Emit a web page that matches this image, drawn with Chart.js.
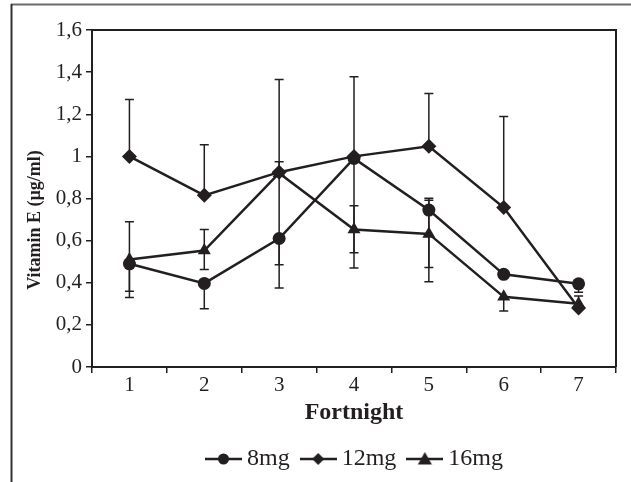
<!DOCTYPE html>
<html>
<head>
<meta charset="utf-8">
<script src="https://cdn.jsdelivr.net/npm/chart.js@4.4.0/dist/chart.umd.min.js"></script>
<style>
  html, body { margin: 0; padding: 0; background: #fff; }
</style>
</head>
<body>
<canvas id="vitChart" width="631" height="482"></canvas>
<script>
// Vitamin E by fortnight, three doses
const fortnights = ['1', '2', '3', '4', '5', '6', '7'];
const vit8  = [0.49, 0.397, 0.61, 0.99, 0.745, 0.44, 0.395];
const vit12 = [1.0, 0.815, 0.925, 1.0, 1.048, 0.757, 0.28];
const vit16 = [0.51, 0.553, 0.92, 0.653, 0.632, 0.333, 0.30];

// error bars (up / down)
const up8    = [0, 0, 0, 0, 0.056, 0, 0];
const down8  = [0.13, 0.12, 0.235, 0.52, 0.34, 0, 0.04];
const up12   = [0.27, 0.24, 0.44, 0.378, 0.25, 0.432, 0];
const down12 = [0, 0, 0.44, 0, 0, 0, 0];
const up16   = [0.18, 0.10, 0.055, 0.112, 0.16, 0, 0.037];
const down16 = [0.18, 0.09, 0, 0.11, 0.16, 0.067, 0];

const yTicks = [0, 0.2, 0.4, 0.6, 0.8, 1, 1.2, 1.4, 1.6];

const ink = '#231f20';
const serif = "'Liberation Serif', 'Times New Roman', serif";

function legendMark(kind) {
  const c = document.createElement('canvas');
  c.width = 37; c.height = 18;
  const g = c.getContext('2d');
  g.strokeStyle = ink; g.fillStyle = ink; g.lineWidth = 2.5;
  g.beginPath(); g.moveTo(0, 9); g.lineTo(37, 9); g.stroke();
  g.beginPath();
  if (kind === 'circle') {
    g.arc(18.5, 9, 5.5, 0, Math.PI * 2);
  } else if (kind === 'diamond') {
    g.moveTo(18.5, 3); g.lineTo(24.5, 9); g.lineTo(18.5, 15); g.lineTo(12.5, 9);
  } else {
    g.moveTo(18.5, 2); g.lineTo(25.5, 14.5); g.lineTo(11.5, 14.5);
  }
  g.closePath(); g.fill();
  return c;
}
const marks = [legendMark('circle'), legendMark('diamond'), legendMark('triangle')];

const errors = [[up8, down8], [up12, down12], [up16, down16]];

const errorBars = {
  id: 'errorBars',
  beforeDatasetsDraw(chart) {
    const ctx = chart.ctx;
    const y = chart.scales.y;
    ctx.save();
    ctx.strokeStyle = ink;
    ctx.lineWidth = 1.5;
    chart.data.datasets.forEach((ds, i) => {
      const meta = chart.getDatasetMeta(i);
      const [up, down] = errors[i];
      meta.data.forEach((pt, j) => {
        const v = ds.data[j];
        const ends = [];
        if (up[j] > 0) ends.push(y.getPixelForValue(v + up[j]));
        if (down[j] > 0) ends.push(y.getPixelForValue(v - down[j]));
        ends.forEach(py => {
          ctx.beginPath();
          ctx.moveTo(pt.x, pt.y); ctx.lineTo(pt.x, py);
          ctx.moveTo(pt.x - 4.5, py); ctx.lineTo(pt.x + 4.5, py);
          ctx.stroke();
        });
      });
    });
    ctx.restore();
  }
};

// outer figure lines, plot box top/right, y title and the legend row
const frame = {
  id: 'frame',
  beforeDraw(chart) {
    const ctx = chart.ctx;
    ctx.save();
    ctx.fillStyle = '#fff';
    ctx.fillRect(0, 0, chart.width, chart.height);
    ctx.strokeStyle = '#6d6d6d';
    ctx.lineWidth = 2;
    ctx.beginPath(); ctx.moveTo(11, 4.5); ctx.lineTo(chart.width, 4.5); ctx.stroke();
    ctx.strokeStyle = '#333';
    ctx.beginPath(); ctx.moveTo(11.5, 4); ctx.lineTo(11.5, chart.height); ctx.stroke();
    ctx.restore();
  },
  afterDraw(chart) {
    const a = chart.chartArea;
    const ctx = chart.ctx;
    ctx.save();
    ctx.strokeStyle = ink;
    ctx.lineWidth = 2;
    ctx.beginPath();
    ctx.moveTo(a.left, a.top); ctx.lineTo(a.right, a.top); ctx.lineTo(a.right, a.bottom);
    ctx.stroke();

    // y axis title
    ctx.fillStyle = ink;
    ctx.font = 'bold 18px ' + serif;
    ctx.textAlign = 'center';
    ctx.textBaseline = 'middle';
    ctx.translate(35, 220);
    ctx.rotate(-Math.PI / 2);
    ctx.fillText('Vitamin E (µg/ml)', 0, 0);
    ctx.setTransform(1, 0, 0, 1, 0, 0);

    // legend
    ctx.font = '24px ' + serif;
    ctx.textAlign = 'left';
    const labels = chart.data.datasets.map(d => d.label);
    const widths = labels.map(t => ctx.measureText(t).width);
    const total = widths.reduce((s, w) => s + w, 0) + labels.length * (37 + 5) + (labels.length - 1) * 10;
    let x = (a.left + a.right) / 2 - total / 2;
    const ly = 459;
    labels.forEach((t, i) => {
      ctx.drawImage(marks[i], x, ly - 9);
      x += 37 + 5;
      ctx.fillText(t, x, ly);
      x += widths[i] + 10;
    });
    ctx.restore();
  }
};

const common = {
  borderColor: ink,
  backgroundColor: ink,
  borderWidth: 2.5,
  pointBorderWidth: 0,
  tension: 0,
  fill: false
};

const ctx = document.getElementById('vitChart').getContext('2d');
const vitChart = new Chart(ctx, {
  type: 'line',
  data: {
    labels: fortnights,
    datasets: [
      { ...common, label: '8mg', data: vit8, pointStyle: 'circle', pointRadius: 6.5 },
      { ...common, label: '12mg', data: vit12, pointStyle: 'rectRot', pointRadius: 7.5 },
      { ...common, label: '16mg', data: vit16, pointStyle: 'triangle', pointRadius: 7.5 }
    ]
  },
  options: {
    responsive: false,
    animation: false,
    layout: { padding: { top: 30, right: 15, left: 0, bottom: 55 } },
    scales: {
      x: {
        offset: true,
        grid: { offset: true, drawOnChartArea: false, color: ink, tickLength: 6, lineWidth: 1.5 },
        border: { color: ink, width: 2 },
        ticks: { color: ink, font: { family: serif, size: 21 }, padding: 0 },
        title: {
          display: true, text: 'Fortnight', color: ink,
          font: { family: serif, size: 24, weight: 'bold' },
          padding: { top: 0, bottom: 0 }
        },
        afterFit: s => { s.height = 60; }
      },
      y: {
        min: 0,
        max: 1.6,
        afterBuildTicks: s => { s.ticks = yTicks.map(v => ({ value: v })); },
        grid: { drawOnChartArea: false, color: ink, tickLength: 6, lineWidth: 1.5 },
        border: { color: ink, width: 2 },
        ticks: {
          color: ink,
          font: { family: serif, size: 21 },
          padding: 4,
          callback: v => String(Number(v.toFixed(1))).replace('.', ',')
        },
        afterFit: s => { s.width = 92; }
      }
    },
    plugins: {
      legend: { display: false },
      tooltip: { enabled: false }
    }
  },
  plugins: [frame, errorBars]
});
</script>
</body>
</html>
